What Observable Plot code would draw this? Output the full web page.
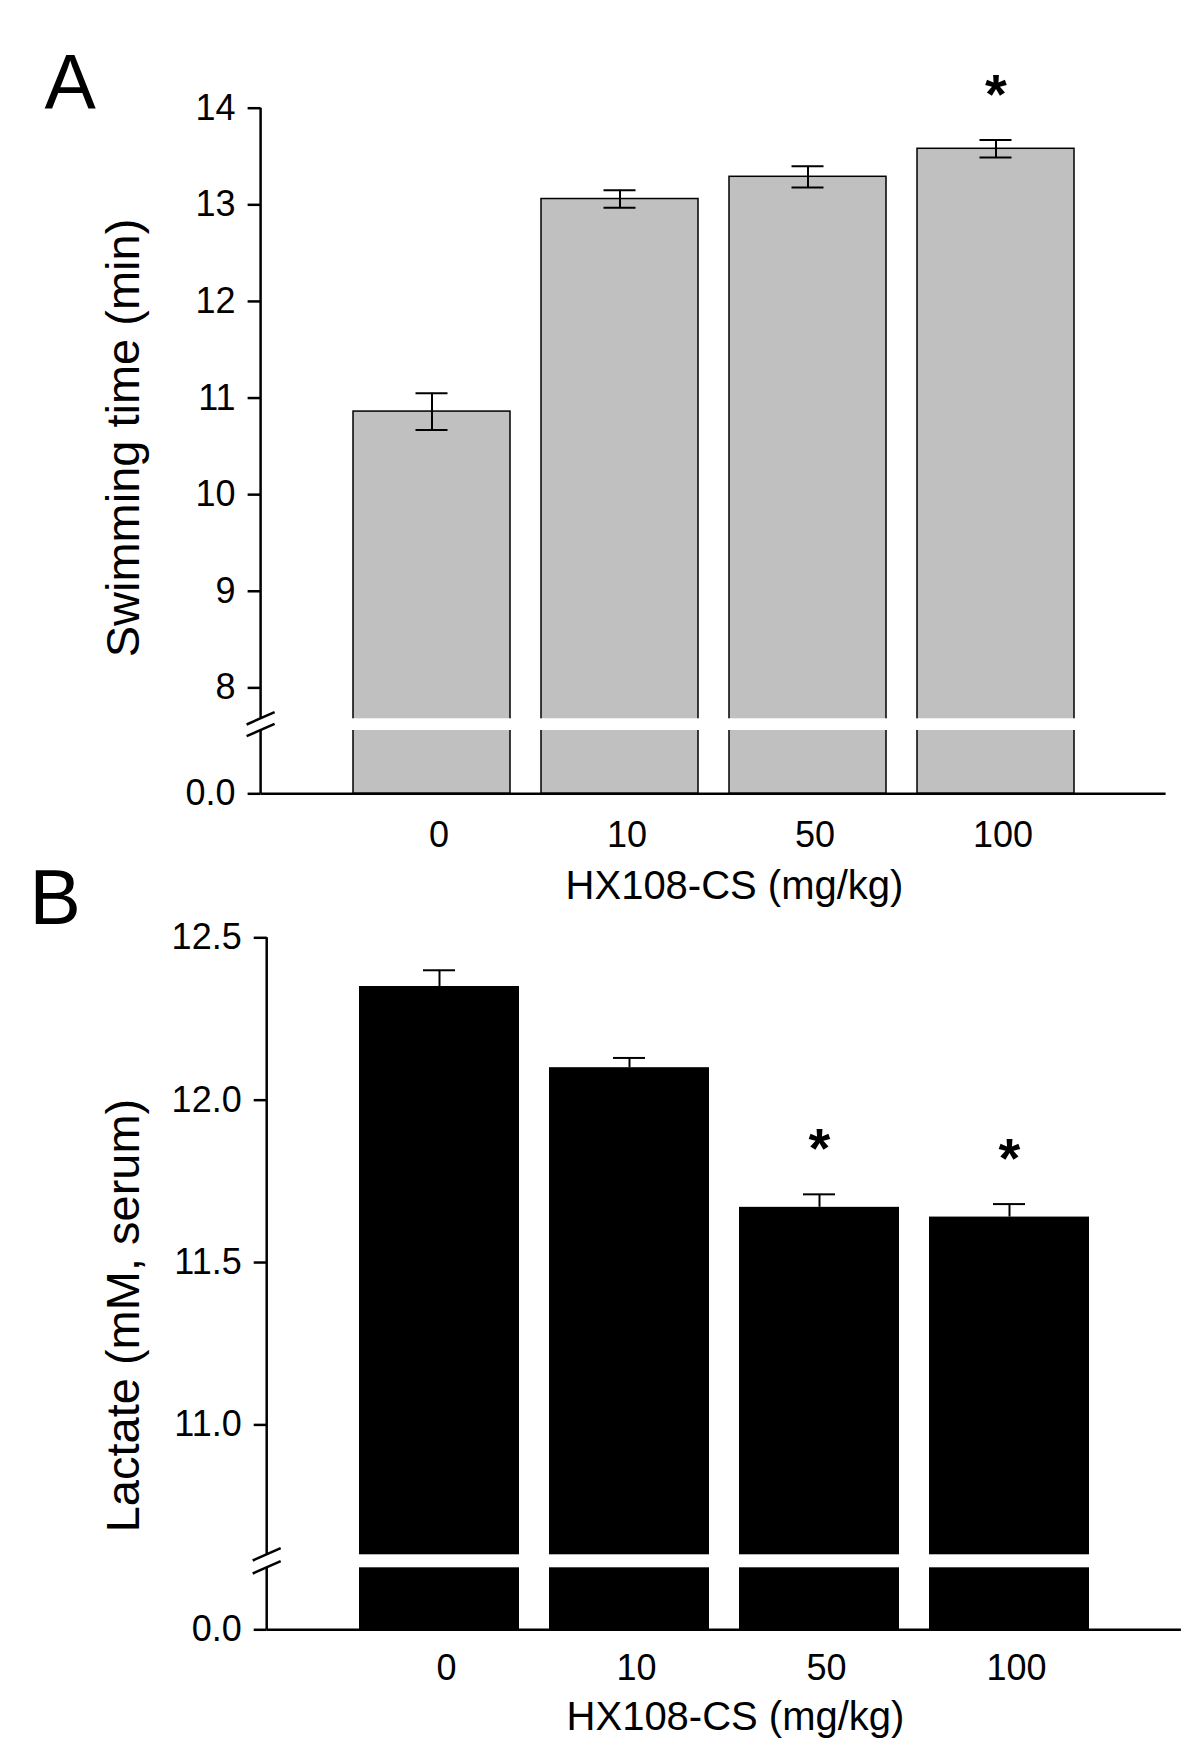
<!DOCTYPE html>
<html>
<head>
<meta charset="utf-8">
<script src="https://cdn.jsdelivr.net/npm/d3@7"></script>
<script src="https://cdn.jsdelivr.net/npm/@observablehq/plot@0.6"></script>
<style>
  body { margin: 0; background: #ffffff; }
  #wrap { position: relative; width: 1200px; height: 1761px; background: #ffffff; }
  #wrap svg { position: absolute; left: 0; }
</style>
</head>
<body>
<div id="wrap"></div>
<script>
// ---------------- data ----------------
const doses = ["0", "10", "50", "100"];

const swimMean = [10.86, 13.06, 13.29, 13.58];
const swimSE   = [0.19, 0.09, 0.11, 0.09];
const swimSig  = [false, false, false, true];
const swimTicks = [0, 8, 9, 10, 11, 12, 13, 14];

const lactMean = [12.35, 12.10, 11.67, 11.64];
const lactSE   = [0.05, 0.03, 0.04, 0.04];
const lactSig  = [false, false, true, true];
const lactTicks = [0, 11.0, 11.5, 12.0, 12.5];

const xTitle = "HX108-CS (mg/kg)";
const swimTitle = "Swimming time (min)";
const lactTitle = "Lactate (mM, serum)";

const FONT = "Liberation Sans, Arial, Helvetica, sans-serif";

const swimData = doses.map((d, i) => ({dose: d, mean: swimMean[i], se: swimSE[i], sig: swimSig[i]}));
const lactData = doses.map((d, i) => ({dose: d, mean: lactMean[i], se: lactSE[i], sig: lactSig[i]}));

// axis line with break marks, drawn with the plot's own y scale
function brokenAxis(breakLow, breakHigh, top) {
  return (index, scales, values, dims) => {
    const y = scales.y;
    const ax = dims.marginLeft;
    const g = d3.create("svg:g")
      .attr("stroke", "black").attr("stroke-width", 2.5).attr("fill", "none");
    g.append("line").attr("x1", ax).attr("x2", ax).attr("y1", y(top)).attr("y2", y(breakHigh));
    g.append("line").attr("x1", ax).attr("x2", ax).attr("y1", y(breakLow)).attr("y2", y(0));
    for (const v of [breakHigh, breakLow]) {
      const c = y(v);
      g.append("line").attr("x1", ax - 14).attr("y1", c + 6.2).attr("x2", ax + 14).attr("y2", c - 6.2);
    }
    return g.node();
  };
}

function label(text, L, px, py, opts) {
  return Plot.text([text], {
    frameAnchor: "top-left",
    dx: px - L.mL, dy: py - L.mT,
    text: d => d,
    fill: "black",
    lineAnchor: "bottom",
    fontFamily: FONT,
    ...opts
  });
}

function panel(cfg) {
  const L = cfg.layout;
  const y0 = L.H - L.mB;
  const range = [y0, y0 - L.lowSeg, y0 - L.lowSeg - L.gap, L.mT];
  const marks = [
    Plot.barY(cfg.data, {x: "dose", y1: 0, y2: "mean", fill: cfg.fill,
      stroke: cfg.stroke, strokeWidth: cfg.strokeWidth}),
    Plot.barY(cfg.data, {x: "dose", y1: cfg.breakLow, y2: cfg.breakHigh, fill: "white",
      insetLeft: -3, insetRight: -3}),
    Plot.ruleX(cfg.data, {x: "dose", y1: d => cfg.bothCaps ? d.mean - d.se : d.mean, y2: d => d.mean + d.se,
      stroke: "black", strokeWidth: 2}),
    Plot.tickY(cfg.data, {x: "dose", y: d => d.mean + d.se, stroke: "black", strokeWidth: 2,
      insetLeft: cfg.capInset, insetRight: cfg.capInset}),
  ];
  if (cfg.bothCaps) {
    marks.push(Plot.tickY(cfg.data, {x: "dose", y: d => d.mean - d.se, stroke: "black", strokeWidth: 2,
      insetLeft: cfg.capInset, insetRight: cfg.capInset}));
  }
  marks.push(
    Plot.text(cfg.data.filter(d => d.sig), {x: "dose", y: d => d.mean + d.se, text: () => "*",
      lineAnchor: "bottom", dy: -27, fontSize: 56, fontWeight: "bold", fill: "black", fontFamily: FONT}),
    Plot.ruleY([0], {stroke: "black", strokeWidth: 2.5}),
    Plot.axisY({ticks: cfg.ticks, tickFormat: cfg.tickFormat, tickSize: 13, tickPadding: 12.5,
      strokeWidth: 2.5, fontSize: 36, fontFamily: FONT, label: null, fill: "black"}),
    Plot.axisX({tickSize: 0, tickPadding: cfg.xTickPad, fontSize: 36, fontFamily: FONT,
      label: null, dx: 7, fill: "black"}),
    brokenAxis(cfg.breakLow, cfg.breakHigh, cfg.ticks[cfg.ticks.length - 1]),
    label(cfg.panelLabel, L, cfg.panelPos[0], cfg.panelPos[1], {fontSize: 77, textAnchor: "start"}),
    label(cfg.yTitle, L, cfg.yTitlePos[0], cfg.yTitlePos[1], {fontSize: 47, textAnchor: "middle", rotate: -90}),
    label(xTitle, L, cfg.xTitlePos[0], cfg.xTitlePos[1], {fontSize: 40, textAnchor: "middle"})
  );
  const svg = Plot.plot({
    width: 1200,
    height: L.H,
    marginLeft: L.mL,
    marginRight: L.mR,
    marginTop: L.mT,
    marginBottom: L.mB,
    style: {background: "transparent", fontFamily: FONT, fontSize: "36px", color: "black", overflow: "visible"},
    x: {type: "band", domain: doses, paddingInner: cfg.padInner, paddingOuter: cfg.padOuter, align: 0.5},
    y: {type: "linear", domain: [0, cfg.breakLow, cfg.breakHigh, cfg.ticks[cfg.ticks.length - 1]], range},
    marks
  });
  svg.style.top = cfg.top + "px";
  return svg;
}

const wrap = document.getElementById("wrap");

wrap.appendChild(panel({
  top: 0,
  layout: {H: 912, mL: 260.6, mR: 34.4, mT: 107.7, mB: 118.7, lowSeg: 63.3, gap: 11.7},
  data: swimData,
  fill: "#c0c0c0", stroke: "black", strokeWidth: 1.5,
  breakLow: 1, breakHigh: 7.68,
  ticks: swimTicks,
  tickFormat: d => d === 0 ? "0.0" : String(d),
  bothCaps: true, capInset: 62.5,
  padInner: 0.1655, padOuter: 0.483,
  xTickPad: 28,
  panelLabel: "A", panelPos: [44, 108.3],
  yTitle: swimTitle, yTitlePos: [138, 437.5],
  xTitlePos: [734, 898]
}));

wrap.appendChild(panel({
  top: 850,
  layout: {H: 911, mL: 266.7, mR: 19.1, mT: 87.3, mB: 131.7, lowSeg: 62, gap: 13},
  data: lactData,
  fill: "black", stroke: "none", strokeWidth: 0,
  breakLow: 1, breakHigh: 10.6,
  ticks: lactTicks,
  tickFormat: d => d.toFixed(1),
  bothCaps: false, capInset: 64,
  padInner: 0.157, padOuter: 0.477,
  xTickPad: 25,
  panelLabel: "B", panelPos: [29, 73.3],
  yTitle: lactTitle, yTitlePos: [138, 465],
  xTitlePos: [735, 879]
}));
</script>
</body>
</html>
